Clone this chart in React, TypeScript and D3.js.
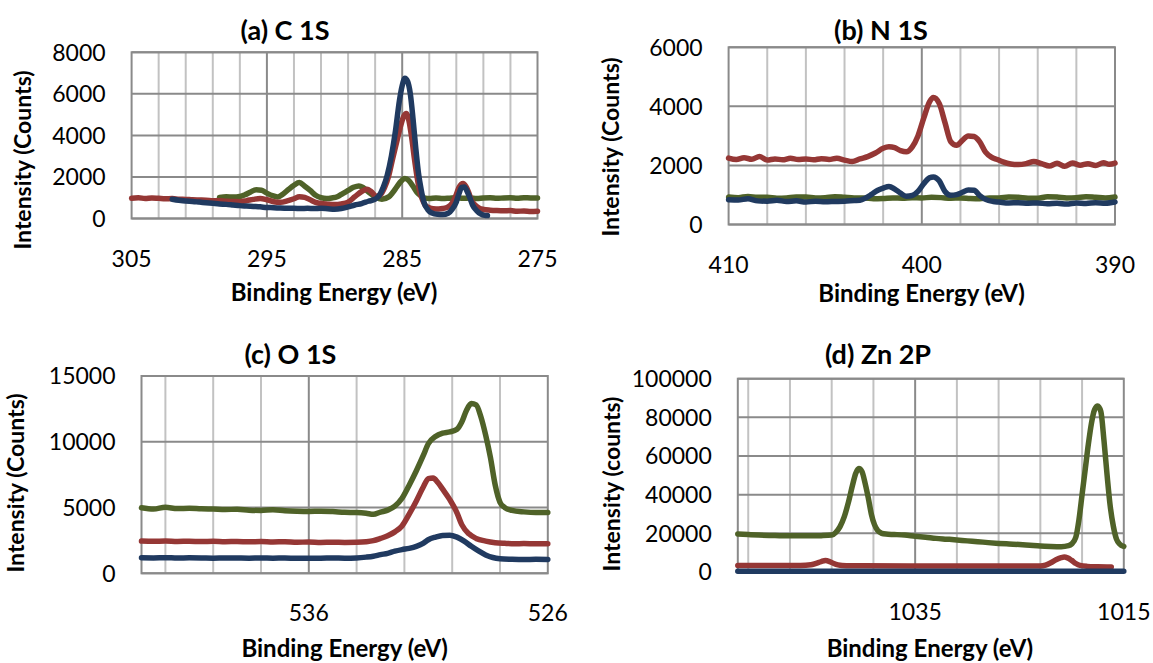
import React from "react";
import * as d3 from "d3";

type Pt = [number, number];

const RED = "#953735";
const GREEN = "#4f6228";
const BLUE = "#203a60";
const GRID_DARK = "#8a8a8a";
const GRID_LIGHT = "#c2c2c2";
const FONT = "Lato, 'Open Sans', sans-serif";

// (a) C 1S  [binding energy eV, counts]
const c1sRed: Pt[] = [
  [305, 980], [304.5, 1000], [304, 960], [303.5, 990], [303, 970], [302.5, 950], [302, 960], [301.5, 930],
  [301, 920], [300.5, 900], [300, 890], [299.5, 880], [299, 860], [298.5, 850], [298, 830], [297.5, 820],
  [297, 810], [296.5, 860], [296, 920], [295.5, 960], [295, 900], [294.5, 810], [294, 780], [293.5, 850],
  [293, 950], [292.6, 1050], [292.2, 1020], [291.8, 900], [291.4, 780], [291, 720], [290.5, 690], [290, 670],
  [289.5, 700], [289, 790], [288.5, 1050], [288, 1300], [287.6, 1410], [287.3, 1300], [286.9, 1060],
  [286.6, 1150], [286.3, 1500], [286, 2050], [285.7, 2900], [285.4, 3700], [285.1, 4500], [284.9, 4900],
  [284.7, 5060], [284.5, 4700], [284.3, 3900], [284.1, 2900], [283.9, 2000], [283.7, 1300], [283.5, 900],
  [283.3, 640], [283, 520], [282.7, 470], [282.3, 460], [282, 480], [281.6, 560], [281.3, 750], [281, 1150],
  [280.8, 1500], [280.5, 1680], [280.3, 1550], [280.1, 1280], [279.9, 900], [279.6, 640], [279.3, 500],
  [279, 440], [278.5, 400], [278, 380], [277.5, 370], [277, 380], [276.5, 350], [276, 360], [275.5, 340], [275, 350],
];
const c1sGreen: Pt[] = [
  [298.5, 1010], [298, 1050], [297.5, 1030], [297, 1060], [296.6, 1150], [296.2, 1280], [295.8, 1380],
  [295.4, 1360], [295, 1220], [294.6, 1100], [294.2, 1040], [293.8, 1180], [293.4, 1400], [293, 1600],
  [292.6, 1730], [292.2, 1550], [291.8, 1350], [291.4, 1120], [291, 1000], [290.6, 960], [290.2, 990],
  [289.8, 1050], [289.4, 1200], [289, 1350], [288.6, 1500], [288.2, 1570], [287.9, 1500], [287.5, 1280],
  [287, 1040], [286.5, 930], [286, 1040], [285.7, 1250], [285.4, 1520], [285.1, 1780], [284.8, 1920],
  [284.5, 1820], [284.2, 1550], [283.9, 1250], [283.6, 1080], [283.3, 980], [283, 960], [282.5, 990],
  [282, 960], [281.5, 980], [281, 1000], [280.5, 970], [280, 990], [279.5, 960], [279, 990], [278.5, 1000],
  [278, 970], [277.5, 990], [277, 1000], [276.5, 980], [276, 1000], [275.5, 990], [275, 990],
];
const c1sBlue: Pt[] = [
  [302, 930], [301.5, 880], [301, 840], [300.5, 820], [300, 790], [299.5, 760], [299, 730], [298.5, 700],
  [298, 680], [297.5, 650], [297, 620], [296.5, 600], [296, 580], [295.5, 560], [295, 530], [294.5, 520],
  [294, 500], [293.5, 490], [293, 490], [292.5, 480], [292, 490], [291.5, 480], [291, 490], [290.5, 470],
  [290, 450], [289.5, 480], [289, 560], [288.5, 650], [288, 720], [287.5, 830], [287, 930], [286.7, 1100],
  [286.4, 1500], [286.1, 2100], [285.8, 3000], [285.5, 4200], [285.2, 5700], [285, 6400], [284.8, 6750],
  [284.6, 6600], [284.4, 6000], [284.2, 4800], [284, 3400], [283.8, 2200], [283.6, 1400], [283.4, 800],
  [283.1, 420], [282.8, 260], [282.4, 200], [282, 190], [281.6, 250], [281.3, 450], [281, 800], [280.8, 1200],
  [280.6, 1500], [280.4, 1520], [280.2, 1300], [280, 1000], [279.8, 650], [279.5, 380], [279.2, 220],
  [278.9, 150], [278.7, 140],
];
const c1sXLabels = [305, 295, 285, 275];
const c1sXMinor = [303, 301, 299, 297, 293, 291, 289, 287, 283, 281, 279, 277];
const c1sYTicks = [0, 2000, 4000, 6000, 8000];

// (b) N 1S
const n1sRed: Pt[] = [
  [410, 2250], [409.6, 2200], [409.2, 2260], [408.8, 2210], [408.4, 2300], [408, 2180], [407.6, 2220],
  [407.2, 2190], [406.8, 2240], [406.4, 2200], [406, 2220], [405.6, 2190], [405.2, 2230], [404.8, 2200],
  [404.4, 2240], [404, 2180], [403.6, 2130], [403.2, 2220], [402.8, 2300], [402.4, 2420], [402, 2580],
  [401.7, 2630], [401.4, 2600], [401.1, 2500], [400.8, 2460], [400.5, 2620], [400.2, 3000], [399.9, 3600],
  [399.6, 4150], [399.4, 4300], [399.1, 4100], [398.8, 3450], [398.5, 2800], [398.2, 2680], [397.9, 2850],
  [397.6, 3000], [397.3, 2980], [397, 2800], [396.7, 2450], [396.4, 2280], [396.1, 2200], [395.8, 2120],
  [395.4, 2050], [395, 2030], [394.6, 2060], [394.2, 2130], [393.8, 2060], [393.4, 1980], [393, 2070],
  [392.6, 1970], [392.2, 2080], [391.8, 2010], [391.4, 2060], [391, 2000], [390.6, 2090], [390.3, 2040], [390, 2080],
];
const n1sGreen: Pt[] = [
  [410, 930], [409.5, 910], [409, 950], [408.5, 920], [408, 920], [407.5, 890], [407, 900], [406.5, 930],
  [406, 930], [405.5, 900], [405, 910], [404.5, 940], [404, 920], [403.5, 900], [403, 900], [402.5, 870],
  [402, 880], [401.5, 900], [401, 890], [400.5, 910], [400, 900], [399.5, 920], [399, 910], [398.5, 890],
  [398, 900], [397.5, 880], [397, 870], [396.5, 900], [396, 900], [395.5, 930], [395, 920], [394.5, 890],
  [394, 890], [393.5, 940], [393, 930], [392.5, 900], [392, 910], [391.5, 940], [391, 920], [390.5, 900], [390, 930],
];
const n1sBlue: Pt[] = [
  [410, 840], [409.5, 830], [409, 870], [408.5, 800], [408, 790], [407.5, 820], [407, 780], [406.5, 800],
  [406, 760], [405.5, 790], [405, 770], [404.5, 780], [404, 790], [403.5, 810], [403.2, 820], [402.9, 900],
  [402.6, 1020], [402.3, 1150], [402, 1230], [401.7, 1290], [401.4, 1200], [401.1, 1060], [400.8, 960],
  [400.5, 980], [400.2, 1120], [399.9, 1380], [399.6, 1580], [399.4, 1610], [399.1, 1480], [398.8, 1120],
  [398.5, 990], [398.2, 1010], [397.9, 1090], [397.6, 1170], [397.3, 1160], [397, 980], [396.7, 850],
  [396.3, 780], [396, 760], [395.5, 730], [395, 740], [394.5, 720], [394, 730], [393.5, 700], [393, 720],
  [392.5, 690], [392, 730], [391.5, 710], [391, 740], [390.5, 720], [390, 760],
];
const n1sXLabels = [410, 400, 390];
const n1sXMinor = [408, 406, 404, 402, 398, 396, 394, 392];
const n1sYTicks = [0, 2000, 4000, 6000];

// (c) O 1S
const o1sGreen: Pt[] = [
  [543, 4980], [542.5, 4880], [542, 5020], [541.5, 4920], [541, 4950], [540.5, 4900], [540, 4880],
  [539.5, 4850], [539, 4870], [538.5, 4800], [538, 4780], [537.5, 4830], [537, 4760], [536.5, 4720],
  [536, 4700], [535.5, 4720], [535, 4690], [534.5, 4640], [534, 4620], [533.6, 4560], [533.3, 4480],
  [533, 4650], [532.7, 4800], [532.4, 5100], [532.1, 5700], [531.8, 6700], [531.5, 7800], [531.2, 9000],
  [531, 9850], [530.7, 10400], [530.4, 10650], [530.1, 10750], [529.8, 10950], [529.6, 11500],
  [529.4, 12400], [529.2, 12900], [529, 12800], [528.8, 11900], [528.6, 10500], [528.4, 8800],
  [528.2, 6700], [528, 5400], [527.8, 5000], [527.5, 4780], [527, 4670], [526.5, 4620], [526, 4620],
];
const o1sRed: Pt[] = [
  [543, 2450], [542.5, 2430], [542, 2460], [541.5, 2420], [541, 2440], [540.5, 2410], [540, 2430],
  [539.5, 2400], [539, 2420], [538.5, 2390], [538, 2410], [537.5, 2380], [537, 2400], [536.5, 2360],
  [536, 2380], [535.5, 2350], [535, 2370], [534.5, 2350], [534, 2360], [533.6, 2400], [533.3, 2480],
  [533, 2650], [532.7, 2850], [532.4, 3150], [532.1, 3600], [531.8, 4500], [531.5, 5500], [531.2, 6600],
  [531, 7200], [530.8, 7250], [530.6, 6900], [530.4, 6400], [530.1, 5600], [529.8, 4600], [529.6, 3700],
  [529.3, 3000], [529, 2650], [528.6, 2450], [528.2, 2330], [527.8, 2280], [527.4, 2250], [527, 2260],
  [526.5, 2240], [526, 2250],
];
const o1sBlue: Pt[] = [
  [543, 1180], [542.5, 1170], [542, 1190], [541.5, 1160], [541, 1180], [540.5, 1170], [540, 1150],
  [539.5, 1170], [539, 1160], [538.5, 1150], [538, 1170], [537.5, 1150], [537, 1160], [536.5, 1140],
  [536, 1150], [535.5, 1150], [535, 1160], [534.5, 1150], [534, 1170], [533.6, 1230], [533.3, 1300],
  [533, 1420], [532.7, 1520], [532.4, 1680], [532.1, 1800], [531.8, 1900], [531.5, 2050], [531.2, 2300],
  [531, 2550], [530.7, 2750], [530.4, 2880], [530.1, 2900], [529.8, 2750], [529.5, 2450], [529.2, 2050],
  [528.9, 1700], [528.6, 1400], [528.3, 1200], [528, 1110], [527.5, 1070], [527, 1050], [526.5, 1060], [526, 1050],
];
const o1sXLabels = [536, 526];
const o1sXMinor = [542, 540, 538, 534, 532, 530, 528];
const o1sYTicks = [0, 5000, 10000, 15000];

// (d) Zn 2P
const zn2pGreen: Pt[] = [
  [1052, 19700], [1051, 19400], [1050, 19100], [1049, 18900], [1048, 18800], [1047, 18700], [1046, 18700],
  [1045, 18700], [1044, 18800], [1043, 19100], [1042.6, 20500], [1042.2, 23500], [1041.8, 28500],
  [1041.4, 36000], [1041, 45000], [1040.7, 51000], [1040.4, 53500], [1040.1, 52000], [1039.8, 46000],
  [1039.5, 38500], [1039.2, 30000], [1038.9, 24500], [1038.6, 21500], [1038.2, 20000], [1037.8, 19600],
  [1037, 19400], [1036, 19100], [1035, 18500], [1034, 18000], [1033, 17400], [1032, 17000], [1031, 16600],
  [1030, 16100], [1029, 15700], [1028, 15200], [1027, 14800], [1026, 14500], [1025, 14200], [1024, 13800],
  [1023, 13400], [1022, 13200], [1021, 13100], [1020.3, 13600], [1020, 14500], [1019.6, 18000],
  [1019.3, 27000], [1019, 40000], [1018.7, 53000], [1018.4, 66000], [1018.1, 77000], [1017.8, 84000],
  [1017.5, 85900], [1017.2, 83000], [1016.9, 68000], [1016.6, 50000], [1016.3, 34000], [1016, 23600],
  [1015.7, 17000], [1015.4, 14500], [1015, 13200],
];
const zn2pRed: Pt[] = [
  [1052, 3300], [1050, 3300], [1048, 3300], [1046, 3350], [1045, 3700], [1044.5, 4500], [1044, 5400],
  [1043.6, 5900], [1043.2, 5400], [1042.8, 4400], [1042.4, 3700], [1042, 3400], [1040, 3200], [1035, 3100],
  [1030, 3050], [1025, 3050], [1023, 3100], [1022.5, 3600], [1022, 4800], [1021.5, 6300], [1021, 7400],
  [1020.7, 7700], [1020.4, 7300], [1020, 6000], [1019.6, 4400], [1019.2, 3400], [1018.5, 2900],
  [1017.5, 2700], [1016.2, 2600],
];
const zn2pBlue: Pt[] = [
  [1052, 450], [1048, 420], [1044, 430], [1040, 420], [1036, 410], [1032, 400], [1028, 410], [1024, 400],
  [1020, 420], [1016, 400], [1015, 400],
];
const zn2pXLabels = [1035, 1015];
const zn2pXMinor = [1051, 1047, 1043, 1039, 1031, 1027, 1023, 1019];
const zn2pYTicks = [0, 20000, 40000, 60000, 80000, 100000];

interface Series { data: Pt[]; color: string; }
interface PanelProps {
  title: string; yLabel: string;
  xDomain: [number, number]; yDomain: [number, number];
  xLabels: number[]; xMajor: number[]; xMinor: number[]; yTicks: number[];
  series: Series[];
  box: { left: number; right: number; top: number; bottom: number };
  titlePos: [number, number]; yLabelPos: [number, number]; xLabelPos: [number, number];
}

function Panel(p: PanelProps) {
  const { box } = p;
  const x = d3.scaleLinear().domain(p.xDomain).range([box.left, box.right]);
  const y = d3.scaleLinear().domain(p.yDomain).range([box.bottom, box.top]);
  const line = d3.line<Pt>().x(d => x(d[0])).y(d => y(d[1])).curve(d3.curveMonotoneX);

  return (
    <g>
      {p.xMinor.map(v => (
        <line key={"mi" + v} x1={x(v)} x2={x(v)} y1={box.top} y2={box.bottom} stroke={GRID_LIGHT} strokeWidth={2} />
      ))}
      {p.yTicks.map(v => (
        <line key={"h" + v} x1={box.left} x2={box.right} y1={y(v)} y2={y(v)} stroke={GRID_DARK} strokeWidth={2} />
      ))}
      {p.xMajor.map(v => (
        <line key={"ma" + v} x1={x(v)} x2={x(v)} y1={box.top} y2={box.bottom} stroke={GRID_DARK} strokeWidth={2} />
      ))}
      <rect x={box.left} y={box.top} width={box.right - box.left} height={box.bottom - box.top}
        fill="none" stroke={GRID_DARK} strokeWidth={2} />
      {p.series.map((s, i) => (
        <path key={i} d={line(s.data) || ""} fill="none" stroke={s.color} strokeWidth={5.5}
          strokeLinejoin="round" strokeLinecap="round" />
      ))}
      {p.yTicks.map(v => (
        <text key={"yt" + v} x={box.left - 26} y={y(v)} dy="0.36em" textAnchor="end"
          fontFamily={FONT} fontSize={23} fill="#000">{v}</text>
      ))}
      {p.xLabels.map(v => (
        <text key={"xt" + v} x={x(v)} y={box.bottom + 48} textAnchor="middle"
          fontFamily={FONT} fontSize={23} fill="#000">{v}</text>
      ))}
      <text x={p.titlePos[0]} y={p.titlePos[1]} textAnchor="middle" fontFamily={FONT}
        fontWeight="bold" fontSize={27} fill="#000">{p.title}</text>
      <text x={p.xLabelPos[0]} y={p.xLabelPos[1]} textAnchor="middle" fontFamily={FONT}
        fontWeight="bold" fontSize={24} fill="#000">Binding Energy (eV)</text>
      <text transform={`translate(${p.yLabelPos[0]},${p.yLabelPos[1]}) rotate(-90)`} textAnchor="middle"
        dy="0.36em" fontFamily={FONT} fontWeight="bold" fontSize={23} fill="#000">{p.yLabel}</text>
    </g>
  );
}

export default function App() {
  return (
    <svg width={1153} height={663} style={{ position: "absolute", left: 0, top: 0, background: "#fff" }}>
      <rect width={1153} height={663} fill="#fff" />
      <Panel
        title="(a) C 1S" yLabel="Intensity (Counts)"
        xDomain={[305, 275]} yDomain={[0, 8000]}
        xLabels={c1sXLabels} xMajor={[295, 285]} xMinor={c1sXMinor} yTicks={c1sYTicks}
        series={[{ data: c1sGreen, color: GREEN }, { data: c1sRed, color: RED }, { data: c1sBlue, color: BLUE }]}
        box={{ left: 131.6, right: 537.5, top: 52.3, bottom: 218.5 }}
        titlePos={[285, 40]} yLabelPos={[23, 160]} xLabelPos={[334, 301]}
      />
      <Panel
        title="(b) N 1S" yLabel="Intensity (Counts)"
        xDomain={[410, 390]} yDomain={[0, 6000]}
        xLabels={n1sXLabels} xMajor={[400]} xMinor={n1sXMinor} yTicks={n1sYTicks}
        series={[{ data: n1sGreen, color: GREEN }, { data: n1sRed, color: RED }, { data: n1sBlue, color: BLUE }]}
        box={{ left: 728.6, right: 1115, top: 47.3, bottom: 224.5 }}
        titlePos={[881, 40]} yLabelPos={[611, 147]} xLabelPos={[921.6, 302]}
      />
      <Panel
        title="(c) O 1S" yLabel="Intensity (Counts)"
        xDomain={[543, 526]} yDomain={[0, 15000]}
        xLabels={o1sXLabels} xMajor={[536]} xMinor={o1sXMinor} yTicks={o1sYTicks}
        series={[{ data: o1sGreen, color: GREEN }, { data: o1sRed, color: RED }, { data: o1sBlue, color: BLUE }]}
        box={{ left: 141.5, right: 547.8, top: 376, bottom: 573.3 }}
        titlePos={[290.4, 364]} yLabelPos={[15.5, 483]} xLabelPos={[344.7, 657]}
      />
      <Panel
        title="(d) Zn 2P" yLabel="Intensity (counts)"
        xDomain={[1052, 1015]} yDomain={[0, 100000]}
        xLabels={zn2pXLabels} xMajor={[1035]} xMinor={zn2pXMinor} yTicks={zn2pYTicks}
        series={[{ data: zn2pGreen, color: GREEN }, { data: zn2pRed, color: RED }, { data: zn2pBlue, color: BLUE }]}
        box={{ left: 737.8, right: 1123.8, top: 378.7, bottom: 572 }}
        titlePos={[878, 364]} yLabelPos={[612, 484]} xLabelPos={[929.9, 657]}
      />
    </svg>
  );
}
